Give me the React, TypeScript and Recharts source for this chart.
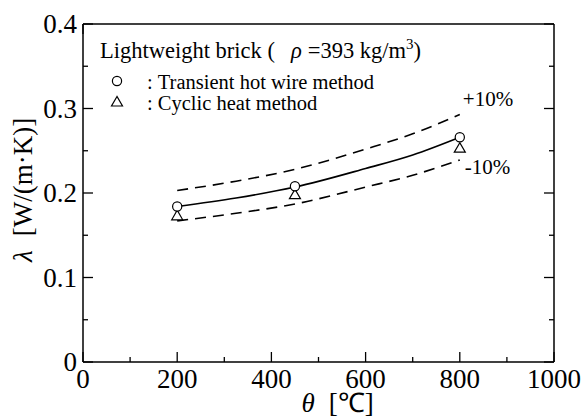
import React from 'react';
import { ComposedChart, Line, Scatter, XAxis, YAxis, Legend, Label } from 'recharts';

// ---- data ----
const fitTemps = [200, 325, 450, 600, 700, 800];
const fitValues = [0.184, 0.194, 0.207, 0.229, 0.245, 0.266];
const upperValues = [0.203, 0.214, 0.228, 0.252, 0.27, 0.293];
const lowerValues = [0.167, 0.176, 0.187, 0.207, 0.221, 0.239];

const pointTemps = [200, 450, 800];
const hotWireValues = [0.184, 0.208, 0.266];
const cyclicValues = [0.173, 0.198, 0.253];

const xMajorTicks = [0, 200, 400, 600, 800, 1000];
const xMinorTicks = [100, 300, 500, 700, 900];
const yMajorTicks = [0, 0.1, 0.2, 0.3, 0.4];
const yMinorTicks = [0.05, 0.15, 0.25, 0.35];
const yTickLabels = ['0', '0.1', '0.2', '0.3', '0.4'];

const legendTitle = 'Lightweight brick (';
const densityText = '=393 kg/m';
const seriesNames = ['Transient hot wire method', 'Cyclic heat method'];
const upperLabel = '+10%';
const lowerLabel = '-10%';

// ---- derived tables ----
const lineData = fitTemps.map((x, i) => ({ x, fit: fitValues[i], upper: upperValues[i], lower: lowerValues[i] }));
const hotWireData = pointTemps.map((x, i) => ({ x, y: hotWireValues[i] }));
const cyclicData = pointTemps.map((x, i) => ({ x, y: cyclicValues[i] }));
const xAllTicks = [...xMajorTicks, ...xMinorTicks].sort((a, b) => a - b);
const yAllTicks = [...yMajorTicks, ...yMinorTicks].sort((a, b) => a - b);

const FONT = '"Liberation Serif", "Times New Roman", Times, serif';
const SERIF = { fontFamily: FONT };
const MAJOR = 10;
const MINOR = 5;
const TICK_W = 1.3;

const majorIndex = (v: number, list: number[]) => list.findIndex((m) => Math.abs(m - v) < 1e-9);

const BottomTick = (props: any) => {
  const { x, y, payload } = props;
  const idx = majorIndex(payload.value, xMajorTicks);
  const major = idx >= 0;
  return (
    <g>
      <line x1={x} x2={x} y1={y} y2={y - (major ? MAJOR : MINOR)} stroke="#000" strokeWidth={TICK_W} />
      {major && (
        <text x={x} y={y + 26} textAnchor="middle" style={SERIF} fontSize={27} fill="#000">
          {String(payload.value)}
        </text>
      )}
    </g>
  );
};

const TopTick = (props: any) => {
  const { x, y, payload } = props;
  const major = majorIndex(payload.value, xMajorTicks) >= 0;
  return <line x1={x} x2={x} y1={y} y2={y + (major ? MAJOR : MINOR)} stroke="#000" strokeWidth={TICK_W} />;
};

const LeftTick = (props: any) => {
  const { x, y, payload } = props;
  const idx = majorIndex(payload.value, yMajorTicks);
  const major = idx >= 0;
  return (
    <g>
      <line x1={x} x2={x + (major ? MAJOR : MINOR)} y1={y} y2={y} stroke="#000" strokeWidth={TICK_W} />
      {major && (
        <text x={x - 6} y={y + 9} textAnchor="end" style={SERIF} fontSize={27} fill="#000">
          {yTickLabels[idx]}
        </text>
      )}
    </g>
  );
};

const RightTick = (props: any) => {
  const { x, y, payload } = props;
  const major = majorIndex(payload.value, yMajorTicks) >= 0;
  return <line x1={x} x2={x - (major ? MAJOR : MINOR)} y1={y} y2={y} stroke="#000" strokeWidth={TICK_W} />;
};

const XTitle = (props: any) => {
  const vb = props.viewBox || {};
  const cx = vb.x + vb.width / 2;
  return (
    <text x={cx - 17} y={vb.y + 50} style={SERIF} fontSize={27} fill="#000">
      <tspan fontStyle="italic">θ</tspan>
      <tspan dx={14}>[℃]</tspan>
    </text>
  );
};

const YTitle = (props: any) => {
  const vb = props.viewBox || {};
  const cy = vb.y + vb.height / 2;
  const right = vb.x + vb.width;
  return (
    <text transform={`translate(${right - 51}, ${cy + 69}) rotate(-90)`} style={SERIF} fontSize={27} fill="#000">
      <tspan fontStyle="italic">λ</tspan>
      <tspan dx={14}>[W/(m·K)]</tspan>
    </text>
  );
};

const CircleShape = (p: any) => <circle cx={p.cx} cy={p.cy} r={4.6} fill="#fff" stroke="#000" strokeWidth={1.2} />;
const TriangleShape = (p: any) => (
  <polygon
    points={`${p.cx},${p.cy - 5.5} ${p.cx - 5.5},${p.cy + 4} ${p.cx + 5.5},${p.cy + 4}`}
    fill="#fff"
    stroke="#000"
    strokeWidth={1.2}
  />
);

const LegendContent = () => (
  <svg width={584} height={130} style={{ display: 'block' }}>
    <text x={100} y={58} style={SERIF} fontSize={22.5} fill="#000">
      <tspan>{legendTitle}</tspan>
      <tspan dx={16} fontStyle="italic">ρ</tspan>
      <tspan dx={6}>{densityText}</tspan>
      <tspan dy={-9} fontSize={15}>3</tspan>
      <tspan dy={9}>)</tspan>
    </text>
    <CircleShape cx={117} cy={81} />
    <text x={147} y={89} style={SERIF} fontSize={20.5} fill="#000">
      {`:\u00a0${seriesNames[0]}`}
    </text>
    <TriangleShape cx={117} cy={102} />
    <text x={147} y={110} style={SERIF} fontSize={20.5} fill="#000">
      {`:\u00a0${seriesNames[1]}`}
    </text>
  </svg>
);

const lastIdx = fitTemps.length - 1;
const UpperLabel = (p: any) =>
  p.index === lastIdx ? (
    <text x={p.x + 3} y={p.y - 8} style={SERIF} fontSize={21} fill="#000">
      {upperLabel}
    </text>
  ) : null;
const LowerLabel = (p: any) =>
  p.index === lastIdx ? (
    <text x={p.x + 5} y={p.y + 14} style={SERIF} fontSize={21} fill="#000">
      {lowerLabel}
    </text>
  ) : null;

export default function App() {
  return (
    <div style={{ position: 'fixed', left: 0, top: 0, width: 584, height: 418, background: '#fff', fontFamily: FONT }}>
      <ComposedChart width={584} height={418} data={lineData} margin={{ top: 23, right: 29, bottom: 55, left: 82 }} style={SERIF}>
        <XAxis
          dataKey="x"
          type="number"
          domain={[0, 1000]}
          ticks={xAllTicks}
          interval={0}
          height={1}
          tickSize={0}
          tickMargin={0}
          tickLine={false}
          axisLine={{ stroke: '#000', strokeWidth: 1.5 }}
          tick={<BottomTick />}
          allowDataOverflow
        >
          <Label content={<XTitle />} />
        </XAxis>
        <XAxis
          xAxisId="top"
          orientation="top"
          type="number"
          domain={[0, 1000]}
          ticks={xAllTicks}
          interval={0}
          height={1}
          tickSize={0}
          tickMargin={0}
          tickLine={false}
          axisLine={{ stroke: '#000', strokeWidth: 1.5 }}
          tick={<TopTick />}
          allowDataOverflow
        />
        <YAxis
          type="number"
          domain={[0, 0.4]}
          ticks={yAllTicks}
          interval={0}
          width={1}
          tickSize={0}
          tickMargin={0}
          tickLine={false}
          axisLine={{ stroke: '#000', strokeWidth: 1.5 }}
          tick={<LeftTick />}
          allowDataOverflow
        >
          <Label content={<YTitle />} />
        </YAxis>
        <YAxis
          yAxisId="right"
          orientation="right"
          type="number"
          domain={[0, 0.4]}
          ticks={yAllTicks}
          interval={0}
          width={1}
          tickSize={0}
          tickMargin={0}
          tickLine={false}
          axisLine={{ stroke: '#000', strokeWidth: 1.5 }}
          tick={<RightTick />}
          allowDataOverflow
        />
        <Legend
          layout="vertical"
          align="center"
          verticalAlign="middle"
          content={<LegendContent />}
          wrapperStyle={{ position: 'absolute', left: 0, top: 0, width: 584, height: 130, pointerEvents: 'none' }}
        />
        <Line
          dataKey="upper"
          type="monotone"
          stroke="#000"
          strokeWidth={1.6}
          strokeDasharray="11 7"
          dot={false}
          activeDot={false}
          legendType="none"
          isAnimationActive={false}
          label={<UpperLabel />}
        />
        <Line
          dataKey="lower"
          type="monotone"
          stroke="#000"
          strokeWidth={1.6}
          strokeDasharray="11 7"
          dot={false}
          activeDot={false}
          legendType="none"
          isAnimationActive={false}
          label={<LowerLabel />}
        />
        <Line
          dataKey="fit"
          type="monotone"
          stroke="#000"
          strokeWidth={1.6}
          dot={false}
          activeDot={false}
          legendType="none"
          isAnimationActive={false}
        />
        <Scatter name={seriesNames[1]} data={cyclicData} dataKey="y" shape={<TriangleShape />} isAnimationActive={false} />
        <Scatter name={seriesNames[0]} data={hotWireData} dataKey="y" shape={<CircleShape />} isAnimationActive={false} />
      </ComposedChart>
    </div>
  );
}
